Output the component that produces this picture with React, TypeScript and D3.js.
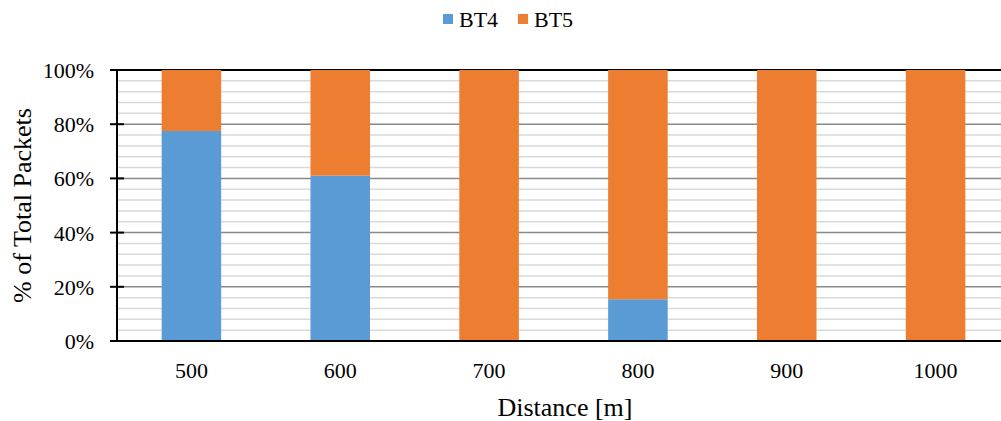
import React from "react";
import * as d3 from "d3";

const categories = ["500", "600", "700", "800", "900", "1000"];
const bt4 = [77.5, 61, 0, 15.4, 0, 0];
const bt5 = bt4.map((v) => 100 - v);
const yTicks = [0, 20, 40, 60, 80, 100];
const seriesNames = ["BT4", "BT5"];
const colors = ["#5B9BD5", "#ED7D31"];

const font = "'Liberation Serif', 'Times New Roman', Times, serif";
const ts: React.CSSProperties = { fontFamily: font };

export default function App() {
  const W = 1001, H = 421;
  const left = 117, right = 1010, top = 70, bottom = 341;
  const x = d3.scaleBand().domain(categories).range([left, right]).paddingInner(0.6).paddingOuter(0.3);
  const y = d3.scaleLinear().domain([0, 100]).range([bottom, top]);
  const minor = d3.range(0, 101, 4).filter((v) => v % 20 !== 0);
  return (
    <svg width={W} height={H} style={{ position: "absolute", left: 0, top: 0, background: "#fff", fontFamily: font }}>
      <rect width={W} height={H} fill="#fff" />
      {minor.map((v) => (
        <line key={"m" + v} x1={left} x2={W} y1={y(v)} y2={y(v)} stroke="#d9d9d9" strokeWidth={1.5} />
      ))}
      {yTicks.filter((v) => v !== 0 && v !== 100).map((v) => (
        <line key={"g" + v} x1={left} x2={W} y1={y(v)} y2={y(v)} stroke="#898989" strokeWidth={1.5} />
      ))}
      <line x1={left} x2={W} y1={y(100)} y2={y(100)} stroke="#000" strokeWidth={2} />
      {categories.map((c, i) => (
        <g key={c}>
          <rect x={x(c)} width={x.bandwidth()} y={y(bt4[i])} height={y(0) - y(bt4[i])} fill={colors[0]} />
          <rect x={x(c)} width={x.bandwidth()} y={y(100)} height={y(100 - bt5[i]) - y(100)} fill={colors[1]} />
        </g>
      ))}
      <line x1={left} x2={left} y1={top} y2={bottom} stroke="#000" strokeWidth={2} />
      <line x1={left} x2={W} y1={bottom} y2={bottom} stroke="#000" strokeWidth={2} />
      {yTicks.map((v) => (
        <g key={"t" + v}>
          <line x1={110} x2={124} y1={y(v)} y2={y(v)} stroke="#000" strokeWidth={2} />
          <text x={94} y={y(v) + 8} textAnchor="end" fontSize={22} fill="#000" style={ts}>{v}%</text>
        </g>
      ))}
      {categories.map((c) => (
        <text key={"x" + c} x={(x(c) as number) + x.bandwidth() / 2} y={378} textAnchor="middle" fontSize={22} fill="#000" style={ts}>{c}</text>
      ))}
      <text x={565} y={416} textAnchor="middle" fontSize={26} fill="#000" style={ts}>Distance [m]</text>
      <text transform={`translate(31,${(top + bottom) / 2}) rotate(-90)`} textAnchor="middle" fontSize={26} fill="#000" style={ts}>% of Total Packets</text>
      {seriesNames.map((s, i) => (
        <g key={s} transform={`translate(${443 + i * 75},0)`}>
          <rect x={0} y={14} width={10} height={10} fill={colors[i]} />
          <text x={16} y={27} fontSize={22} fill="#000" style={ts}>{s}</text>
        </g>
      ))}
    </svg>
  );
}
